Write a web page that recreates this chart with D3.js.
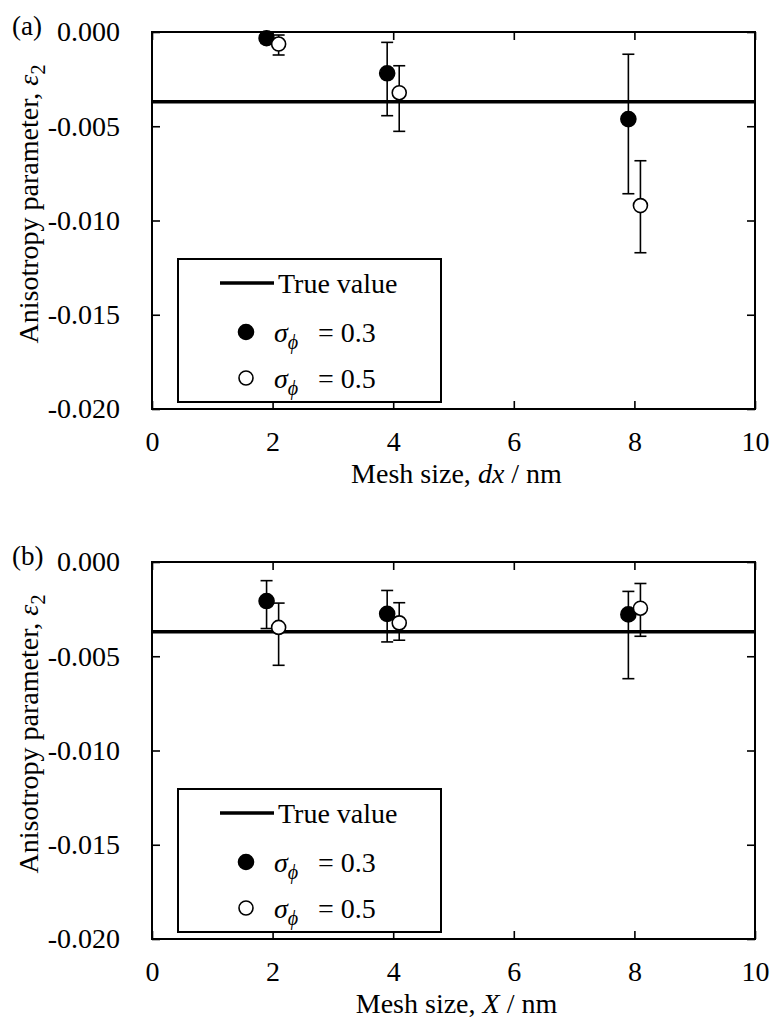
<!DOCTYPE html>
<html>
<head>
<meta charset="utf-8">
<title>anisotropy parameter</title>
<script src="https://d3js.org/d3.v7.min.js"></script>
<style>
body { margin: 0; background: #fff; }
svg { display: block; }
</style>
</head>
<body>
<svg id="chart" width="774" height="1025"></svg>
<script>
// points are drawn a little left / right of the mesh size so they don't overlap
const meshX03 = [1.9, 3.9, 7.9];
const meshX05 = [2.1, 4.1, 8.1];
const trueValue = -0.0037;

// (a) mesh size dx
const a03 = [-0.00033, -0.00219, -0.00462];
const a03Hi = [-0.0001, -0.00055, -0.00118];
const a03Lo = [-0.0006, -0.00444, -0.00858];
const a05 = [-0.00064, -0.00322, -0.00921];
const a05Hi = [-0.00016, -0.00179, -0.00683];
const a05Lo = [-0.00122, -0.00527, -0.01171];

// (b) mesh size X
const b03 = [-0.00207, -0.00275, -0.00278];
const b03Hi = [-0.00099, -0.00151, -0.00156];
const b03Lo = [-0.00353, -0.00424, -0.00619];
const b05 = [-0.00347, -0.00323, -0.00245];
const b05Hi = [-0.00218, -0.00216, -0.00114];
const b05Lo = [-0.00548, -0.00415, -0.00394];

const xTicks = [0, 2, 4, 6, 8, 10];
const yTicks = [0, -0.005, -0.010, -0.015, -0.020];

const FONT = "'Liberation Serif', 'Times New Roman', Times, 'DejaVu Serif', serif";
const svg = d3.select("#chart").attr("font-family", FONT);
const left = 152, w = 603, h = 377;
const fs = 28;

function txt(sel) {
    return sel.attr("font-family", FONT).attr("fill", "#000").attr("font-size", fs);
}

function drawPanel(top, tag, xName, s03, s05) {
    const g = svg.append("g").attr("transform", `translate(${left},${top})`);
    const x = d3.scaleLinear().domain([0, 10]).range([0, w]);
    const y = d3.scaleLinear().domain([-0.020, 0]).range([h, 0]);

    // axes, ticks pointing inwards on all four sides
    const ax = [
        [d3.axisBottom(x).tickValues(xTicks).tickFormat(d => d).tickPadding(22), `translate(0,${h})`],
        [d3.axisTop(x).tickValues(xTicks).tickFormat(""), null],
        [d3.axisLeft(y).tickValues(yTicks).tickFormat(d => d.toFixed(3)).tickPadding(32), null],
        [d3.axisRight(y).tickValues(yTicks).tickFormat(""), `translate(${w},0)`]
    ];
    ax.forEach(([a, tr]) => {
        const ag = g.append("g").call(a.tickSizeInner(-8).tickSizeOuter(0));
        if (tr) ag.attr("transform", tr);
        ag.attr("font-family", FONT).attr("font-size", fs);
        ag.select(".domain").remove();
        ag.selectAll("line").attr("stroke", "#000").attr("stroke-width", 1.6);
        ag.selectAll("text").attr("fill", "#000");
    });

    g.append("rect").attr("width", w).attr("height", h)
        .attr("fill", "none").attr("stroke", "#000").attr("stroke-width", 2);

    // true value
    g.append("line").attr("x1", x(0)).attr("x2", x(10))
        .attr("y1", y(trueValue)).attr("y2", y(trueValue))
        .attr("stroke", "#000").attr("stroke-width", 3.5);

    [[meshX03, s03, true], [meshX05, s05, false]].forEach(([xs, s, filled]) => {
        const pts = xs.map((v, i) => ({ x: v, y: s[0][i], hi: s[1][i], lo: s[2][i] }));
        const eb = g.append("g").selectAll("g").data(pts).join("g")
            .attr("stroke", "#000").attr("stroke-width", 1.6);
        eb.append("line").attr("x1", d => x(d.x)).attr("x2", d => x(d.x))
            .attr("y1", d => y(d.hi)).attr("y2", d => y(d.lo));
        eb.append("line").attr("x1", d => x(d.x) - 6).attr("x2", d => x(d.x) + 6)
            .attr("y1", d => y(d.hi)).attr("y2", d => y(d.hi));
        eb.append("line").attr("x1", d => x(d.x) - 6).attr("x2", d => x(d.x) + 6)
            .attr("y1", d => y(d.lo)).attr("y2", d => y(d.lo));
        g.append("g").selectAll("circle").data(pts).join("circle")
            .attr("cx", d => x(d.x)).attr("cy", d => y(d.y))
            .attr("r", filled ? 7.5 : 7)
            .attr("fill", filled ? "#000" : "#fff")
            .attr("stroke", "#000").attr("stroke-width", 1.6);
    });

    // legend
    const lg = g.append("g").attr("transform", "translate(26,227)");
    lg.append("rect").attr("width", 263).attr("height", 143)
        .attr("fill", "#fff").attr("stroke", "#000").attr("stroke-width", 2);
    lg.append("line").attr("x1", 42).attr("x2", 96).attr("y1", 24).attr("y2", 24)
        .attr("stroke", "#000").attr("stroke-width", 3.5);
    txt(lg.append("text")).attr("x", 100).attr("y", 24).attr("dy", "0.35em").text("True value");
    [["0.3", true, 73], ["0.5", false, 119]].forEach(([v, filled, yy]) => {
        lg.append("circle").attr("cx", 68).attr("cy", yy).attr("r", filled ? 7.5 : 7)
            .attr("fill", filled ? "#000" : "#fff").attr("stroke", "#000").attr("stroke-width", 1.6);
        const t = txt(lg.append("text")).attr("x", 96).attr("y", yy).attr("dy", "0.35em");
        t.append("tspan").attr("font-style", "italic").text("σ");
        t.append("tspan").attr("font-style", "italic").attr("font-size", 20)
            .attr("dy", 7).text("ϕ");
        txt(lg.append("text")).attr("x", 140).attr("y", yy).attr("dy", "0.35em").text("= " + v);
    });

    // axis titles
    const xt = txt(g.append("text")).attr("x", w / 2 + 3).attr("y", h + 74)
        .attr("text-anchor", "middle");
    xt.append("tspan").text("Mesh size, ");
    xt.append("tspan").attr("font-style", "italic").text(xName);
    xt.append("tspan").text(" / nm");

    const yt = txt(svg.append("text"))
        .attr("transform", `translate(38,${top + 172}) rotate(-90)`)
        .attr("text-anchor", "middle");
    yt.append("tspan").text("Anisotropy parameter, ");
    yt.append("tspan").attr("font-style", "italic").text("ε");
    yt.append("tspan").attr("font-size", 20).attr("dy", 7).text("2");

    txt(svg.append("text")).attr("x", 12).attr("y", top + 3).attr("font-size", 27).text(tag);
}

drawPanel(32, "(a)", "dx", [a03, a03Hi, a03Lo], [a05, a05Hi, a05Lo]);
drawPanel(562, "(b)", "X", [b03, b03Hi, b03Lo], [b05, b05Hi, b05Lo]);
</script>
</body>
</html>
